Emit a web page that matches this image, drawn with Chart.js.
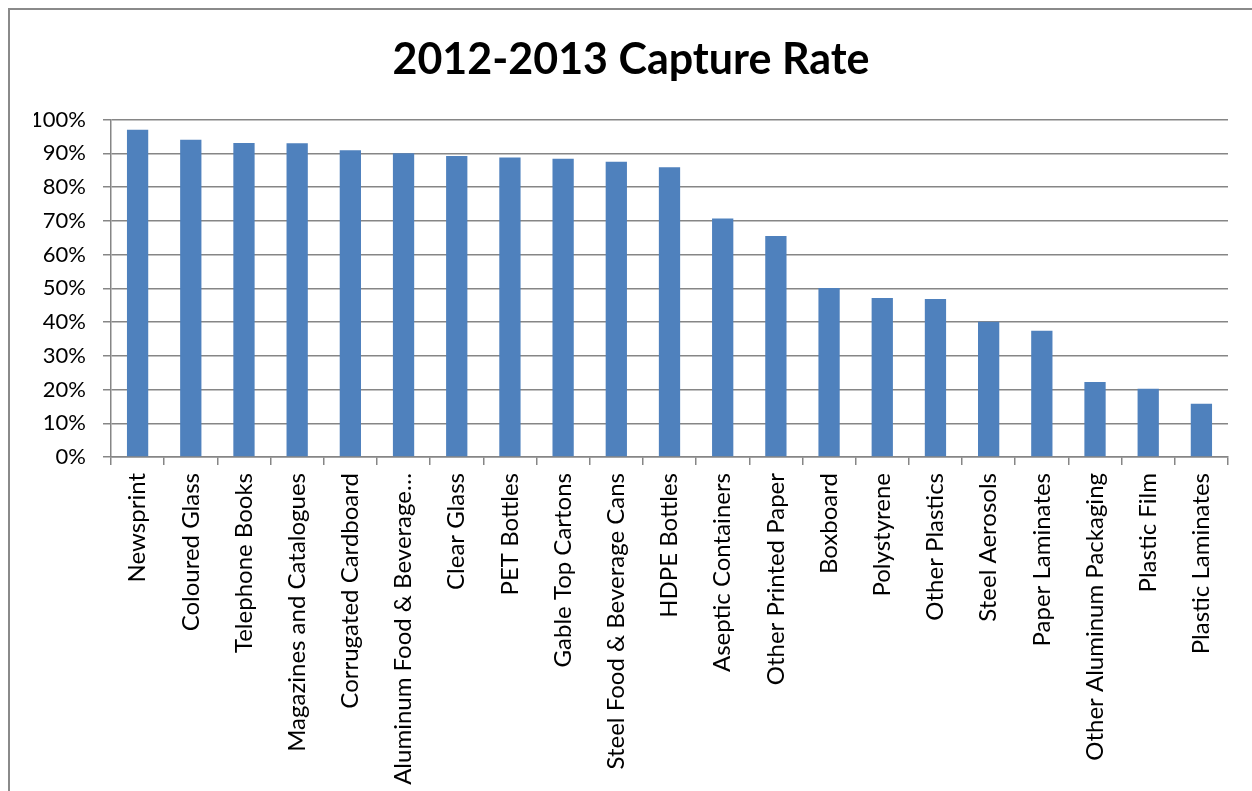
<!DOCTYPE html>
<html>
<head>
<meta charset="utf-8">
<script src="https://cdn.jsdelivr.net/npm/chart.js@4/dist/chart.umd.min.js"></script>
<style>
    html, body { margin: 0; padding: 0; background: #fff; overflow: hidden; }
    #frame {
        position: absolute; left: 8px; top: 8px;
        width: 1242px; height: 781px;
        border-left: 2px solid #8a8a8a; border-top: 2px solid #8a8a8a;
    }
    canvas { display: block; }
</style>
</head>
<body>
<div id="frame"><canvas id="capture" width="1242" height="781"></canvas></div>
<script>
const materials = [
    'Newsprint', 'Coloured Glass', 'Telephone Books', 'Magazines and Catalogues',
    'Corrugated Cardboard', 'Aluminum Food & Beverage…', 'Clear Glass', 'PET Bottles',
    'Gable Top Cartons', 'Steel Food & Beverage Cans', 'HDPE Bottles', 'Aseptic Containers',
    'Other Printed Paper', 'Boxboard', 'Polystyrene', 'Other Plastics', 'Steel Aerosols',
    'Paper Laminates', 'Other Aluminum Packaging', 'Plastic Film', 'Plastic Laminates'
];
const captureRate = [
    97.0, 94.0, 93.1, 93.0, 90.9, 90.0, 89.2, 88.8, 88.4, 87.5, 85.9, 70.7,
    65.5, 50.1, 47.1, 46.8, 40.1, 37.4, 22.2, 20.2, 15.8
];
const yTicks = [0, 10, 20, 30, 40, 50, 60, 70, 80, 90, 100];

const gridGrey = '#868686';

new Chart(document.getElementById('capture').getContext('2d'), {
    type: 'bar',
    data: {
        labels: materials,
        datasets: [{
            data: captureRate,
            backgroundColor: '#4f81bd',
            barPercentage: 0.4,
            categoryPercentage: 1.0,
        }]
    },
    options: {
        responsive: false,
        animation: false,
        // equal side padding keeps the title centred on the frame
        layout: { padding: { left: 24, right: 24, top: 0, bottom: 0 } },
        plugins: {
            legend: { display: false },
            tooltip: { enabled: false },
            title: {
                display: true,
                text: '2012-2013 Capture Rate',
                color: '#000',
                font: { family: 'Lato', size: 43, weight: 'bold' },
                padding: { top: 24, bottom: 34 },
            },
        },
        scales: {
            x: {
                grid: {
                    drawOnChartArea: false,
                    drawTicks: true,
                    tickLength: 8,
                    lineWidth: 1.5,
                    color: gridGrey,
                },
                border: { color: gridGrey, width: 1.5 },
                ticks: {
                    color: '#000',
                    font: { family: 'Lato', size: 24 },
                    minRotation: 90,
                    maxRotation: 90,
                    autoSkip: false,
                    padding: 8,
                },
                afterFit: (scale) => { scale.height = 334; },
            },
            y: {
                min: 0,
                max: 100,
                afterBuildTicks: (scale) => {
                    scale.ticks = yTicks.map(v => ({ value: v }));
                },
                grid: {
                    color: gridGrey,
                    lineWidth: 1.5,
                    tickLength: 8,
                },
                border: { color: gridGrey, width: 1.5 },
                ticks: {
                    color: '#000',
                    font: { family: 'Lato', size: 22 },
                    padding: 17,
                    callback: (value) => value + '%',
                },
                afterFit: (scale) => { scale.width = 77; },
            },
        },
    },
});
</script>
</body>
</html>
